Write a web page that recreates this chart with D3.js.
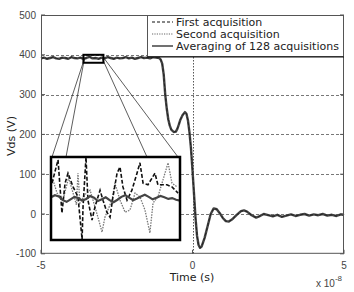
<!DOCTYPE html>
<html><head><meta charset="utf-8">
<script src="https://cdn.jsdelivr.net/npm/d3@7"></script>
<style>body{margin:0;background:#fff}svg{display:block}</style>
</head><body><svg id="c" width="354" height="292"></svg>
<script>
// ---- data ----
const xTicks = [-5, 0, 5];
const yTicks = [-100, 0, 100, 200, 300, 400, 500];
const legendLabels = ["First acquisition", "Second acquisition", "Averaging of 128 acquisitions"];

// main waveform (time in 1e-8 s, Vds in V)
const mainT = [-5.0,-4.9,-4.8,-4.7,-4.6,-4.5,-4.4,-4.3,-4.2,-4.1,-4.0,-3.9,-3.8,-3.7,-3.6,-3.5,-3.4,-3.3,-3.2,-3.1,
  -3.0,-2.9,-2.8,-2.7,-2.6,-2.5,-2.4,-2.3,-2.2,-2.1,-2.0,-1.9,-1.8,-1.7,-1.6,-1.5,-1.4,-1.3,-1.2,-1.1,
  -1.05,-1.0,-0.95,-0.9,-0.85,-0.8,-0.75,-0.7,-0.62,-0.55,-0.5,-0.45,-0.4,-0.33,-0.25,-0.2,-0.15,-0.1,-0.05,0.0,
  0.05,0.1,0.15,0.2,0.25,0.3,0.4,0.5,0.6,0.7,0.8,0.9,1.0,1.1,1.2,1.3,1.45,1.6,1.7,1.8,1.95,2.1,2.2,2.35,2.5,
  2.65,2.8,2.95,3.1,3.25,3.4,3.55,3.7,3.85,4.0,4.15,4.3,4.45,4.6,4.75,4.9,5.0];
const mainV = [391,393,390,392,394,391,390,393,392,390,394,392,391,393,390,392,395,391,392,390,
  393,391,394,392,390,393,391,392,394,391,393,390,392,394,392,393,391,394,393,392,
  388,378,350,300,265,238,222,212,206,207,214,225,237,248,256,252,235,205,165,110,
  50,-10,-55,-78,-85,-82,-60,-30,0,14,12,2,-10,-18,-19,-14,-3,7,9,6,-3,-9,-6,0,-3,
  -6,-2,-7,-4,-1,-5,-2,0,-4,-1,-3,0,-4,-2,-5,-1,-3];

// zoomed window
const zoomT = [-3.6, -2.94];
const zoomV = [380, 400];
const firstT = [-3.595,-3.564,-3.544,-3.528,-3.513,-3.487,-3.462,-3.441,-3.436,-3.421,-3.411,-3.390,-3.375,-3.349,-3.334,-3.314,
  -3.298,-3.283,-3.262,-3.247,-3.232,-3.211,-3.186,-3.160,-3.145,-3.129,-3.104,-3.068,-3.053,-3.007,-2.981,-2.950];
const firstV = [393.7,399.3,386.5,393.7,396.1,392.8,390.4,380.2,388.0,400.0,389.6,384.8,388.0,392.0,389.6,386.7,
  385.5,390.4,396.1,397.6,392.8,389.6,392.0,396.1,398.6,393.7,393.3,396.1,393.3,393.3,392.8,391.3];
const secondT = [-3.590,-3.569,-3.539,-3.510,-3.487,-3.470,-3.462,-3.452,-3.425,-3.400,-3.385,-3.360,-3.339,-3.324,-3.288,-3.273,
  -3.247,-3.221,-3.196,-3.170,-3.145,-3.119,-3.094,-3.078,-3.053,-3.027,-3.001,-2.981,-2.955];
const secondV = [394.5,391.3,389.6,395.0,391.3,388.5,396.1,388.9,391.0,392.0,389.6,385.5,381.9,385.5,389.6,393.7,
  389.6,386.7,387.2,391.3,390.4,387.2,381.7,388.9,390.4,394.5,398.6,393.7,392.8];
const avgT = [-3.60,-3.58,-3.56,-3.54,-3.52,-3.50,-3.48,-3.46,-3.44,-3.42,-3.40,-3.38,-3.36,-3.34,-3.32,-3.30,-3.28,
  -3.26,-3.24,-3.22,-3.20,-3.18,-3.16,-3.14,-3.12,-3.10,-3.08,-3.06,-3.04,-3.02,-3.00,-2.98,-2.96,-2.94];
const avgV = [390.3,390.8,390.5,389.6,389.2,389.8,390.4,390.1,389.5,389.9,390.6,390.2,389.4,389.8,390.3,389.6,389.1,
  389.7,390.4,390.8,390.2,389.6,390.0,390.5,390.9,390.4,389.8,390.2,390.6,390.3,389.9,390.1,389.7,389.5];

// ---- chart ----
const svg = d3.select("#c");
const W = {l:41, r:344, t:15, b:253.8};
const x = d3.scaleLinear().domain([-5,5]).range([W.l, W.r]);
const y = d3.scaleLinear().domain([-100,500]).range([W.b, W.t]);
const tickFont = "'Liberation Sans', Arial, sans-serif";
const labFont = "'DejaVu Sans', sans-serif";

// grid
const g = svg.append("g");
g.selectAll(".hy").data(yTicks.slice(1,-1)).join("line")
  .attr("x1", W.l).attr("x2", W.r).attr("y1", d=>Math.round(y(d))+0.5).attr("y2", d=>Math.round(y(d))+0.5)
  .attr("stroke", "#555").attr("stroke-width", 0.8).attr("stroke-dasharray", "3,2");
g.selectAll(".vx").data([0]).join("line")
  .attr("y1", W.t).attr("y2", W.b).attr("x1", d=>Math.round(x(d))+0.5).attr("x2", d=>Math.round(x(d))+0.5)
  .attr("stroke", "#444").attr("stroke-width", 0.9).attr("stroke-dasharray", "1.5,1.5");

// main curve
const line = d3.line().x((d,i)=>x(mainT[i])).y(d=>y(d));
svg.append("path").datum(mainV).attr("d", line).attr("fill","none")
  .attr("stroke","#444").attr("stroke-width",2.4).attr("stroke-linejoin","round");
svg.append("path").datum(mainV).attr("d", line).attr("fill","none")
  .attr("stroke","#222").attr("stroke-width",1).attr("stroke-dasharray","3,2");

// frame
svg.append("rect").attr("x", W.l+0.5).attr("y", W.t+0.5).attr("width", W.r-W.l-1).attr("height", W.b-W.t-1)
  .attr("fill","none").attr("stroke","#555").attr("stroke-width",1);
// ticks
svg.selectAll(".yt").data(yTicks).join("line")
  .attr("x1", W.l).attr("x2", W.l+4).attr("y1", d=>y(d)).attr("y2", d=>y(d)).attr("stroke","#555");
svg.selectAll(".yt2").data(yTicks).join("line")
  .attr("x1", W.r-4).attr("x2", W.r).attr("y1", d=>y(d)).attr("y2", d=>y(d)).attr("stroke","#555");
svg.selectAll(".xt").data(xTicks).join("line")
  .attr("x1", d=>x(d)).attr("x2", d=>x(d)).attr("y1", W.b-4).attr("y2", W.b).attr("stroke","#555");

// tick labels
svg.selectAll(".yl").data(yTicks).join("text")
  .attr("x", 36).attr("y", d=>y(d)).attr("dy","0.35em").attr("text-anchor","end")
  .attr("font-family", tickFont).attr("font-size", 10).attr("fill","#444").text(d=>d);
svg.selectAll(".xl").data(xTicks).join("text")
  .attr("x", d=>x(d)).attr("y", 265).attr("dy","0.35em").attr("text-anchor","middle")
  .attr("font-family", tickFont).attr("font-size", 10).attr("fill","#444").text(d=>d);

// axis titles
svg.append("text").attr("x", 192).attr("y", 277).attr("dy","0.35em").attr("text-anchor","middle")
  .attr("font-family", labFont).attr("font-size", 11).attr("fill","#222").text("Time (s)");
svg.append("text").attr("transform","translate(11,136) rotate(-90)").attr("dy","0.35em").attr("text-anchor","middle")
  .attr("font-family", labFont).attr("font-size", 11).attr("fill","#222").text("Vds (V)");
const ex = svg.append("text").attr("x", 316).attr("y", 287)
  .attr("font-family", tickFont).attr("font-size", 10).attr("fill","#444");
ex.append("tspan").text("x 10");
ex.append("tspan").attr("dy", -6).attr("font-size", 8).text("-8");

// zoom rectangle and connectors
const rx0 = x(zoomT[0]), rx1 = x(zoomT[1]), ry0 = y(zoomV[1]), ry1 = y(zoomV[0]);
const inset = {l:51, r:180, t:157, b:240};
const conn = [[rx0+1, (ry0+ry1)/2, 52, inset.t], [rx0+1, (ry0+ry1)/2, 66, inset.t],
              [rx1-1, (ry0+ry1)/2, 147, inset.t], [rx1+1, (ry0+ry1)/2, 178, inset.t]];
svg.selectAll(".cn").data(conn).join("line")
  .attr("x1", d=>d[0]).attr("y1", d=>d[1]).attr("x2", d=>d[2]).attr("y2", d=>d[3])
  .attr("stroke","#333").attr("stroke-width",0.8);
svg.append("rect").attr("x", rx0).attr("y", ry0).attr("width", rx1-rx0).attr("height", ry1-ry0)
  .attr("fill","none").attr("stroke","#000").attr("stroke-width",2);

// inset
svg.append("rect").attr("x", inset.l).attr("y", inset.t).attr("width", inset.r-inset.l).attr("height", inset.b-inset.t)
  .attr("fill","#fff");
const ix = d3.scaleLinear().domain(zoomT).range([inset.l, inset.r]);
const iy = d3.scaleLinear().domain(zoomV).range([inset.b, inset.t]);
svg.append("clipPath").attr("id","ic").append("rect")
  .attr("x", inset.l).attr("y", inset.t).attr("width", inset.r-inset.l).attr("height", inset.b-inset.t);
const ig = svg.append("g").attr("clip-path","url(#ic)");
function iline(T, V){ return d3.line().x((d,i)=>ix(T[i])).y(d=>iy(d))(V); }
ig.append("path").attr("d", iline(secondT, secondV)).attr("fill","none")
  .attr("stroke","#777").attr("stroke-width",1.3).attr("stroke-dasharray","1.5,1.2");
ig.append("path").attr("d", iline(firstT, firstV)).attr("fill","none")
  .attr("stroke","#111").attr("stroke-width",1.6).attr("stroke-dasharray","4,2");
ig.append("path").attr("d", iline(avgT, avgV)).attr("fill","none")
  .attr("stroke","#444").attr("stroke-width",2.2);
svg.append("rect").attr("x", inset.l).attr("y", inset.t).attr("width", inset.r-inset.l).attr("height", inset.b-inset.t)
  .attr("fill","none").attr("stroke","#000").attr("stroke-width",2.5);

// legend
const lg = {l:147, r:344, t:15, b:57};
svg.append("rect").attr("x", lg.l+0.5).attr("y", lg.t+0.5).attr("width", lg.r-lg.l-1).attr("height", lg.b-lg.t-1)
  .attr("fill","#fff").attr("stroke","#555").attr("stroke-width",1);
const rowsY = [22, 34, 46];
const styles = [{c:"#111", w:1.2, d:"3,2"}, {c:"#666", w:1.2, d:"1.2,1.2"}, {c:"#111", w:1.2, d:null}];
svg.selectAll(".ll").data(legendLabels).join("line")
  .attr("x1", 152).attr("x2", 173).attr("y1", (d,i)=>rowsY[i]).attr("y2", (d,i)=>rowsY[i])
  .attr("stroke", (d,i)=>styles[i].c).attr("stroke-width", (d,i)=>styles[i].w)
  .attr("stroke-dasharray", (d,i)=>styles[i].d);
svg.selectAll(".lt").data(legendLabels).join("text")
  .attr("x", 176).attr("y", (d,i)=>rowsY[i]).attr("dy","0.35em")
  .attr("font-family", labFont).attr("font-size", 11).attr("fill","#222").text(d=>d);
svg.append("line").attr("x1", lg.l).attr("x2", lg.r).attr("y1", 57).attr("y2", 57).attr("stroke","#111").attr("stroke-width",1);
</script></body></html>
